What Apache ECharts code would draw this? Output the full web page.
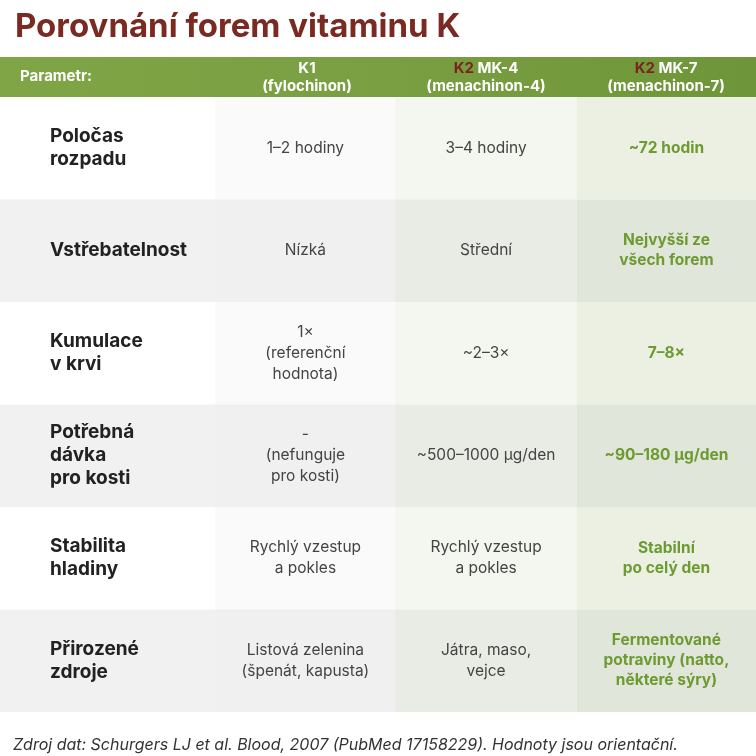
<!DOCTYPE html>
<html><head><meta charset="utf-8">
<script src="https://cdn.jsdelivr.net/npm/echarts@6/dist/echarts.min.js"></script>
<style>html,body{margin:0;padding:0;background:#fff}#c{width:756px;height:756px}</style>
</head><body><div id="c"></div>
<script>
const columns = ['Parametr', 'K1', 'MK-4', 'MK-7'];
const parameters = ['Poločas\nrozpadu', 'Vstřebatelnost', 'Kumulace\nv krvi', 'Potřebná\ndávka\npro kosti', 'Stabilita\nhladiny', 'Přirozené\nzdroje'];
const k1Values = ['1–2 hodiny', 'Nízká', '1×\n(referenční\nhodnota)', '-\n(nefunguje\npro kosti)', 'Rychlý vzestup\na pokles', 'Listová zelenina\n(špenát, kapusta)'];
const mk4Values = ['3–4 hodiny', 'Střední', '~2–3×', '~500–1000 µg/den', 'Rychlý vzestup\na pokles', 'Játra, maso,\nvejce'];
const mk7Values = ['~72 hodin', 'Nejvyšší ze\nvšech forem', '7–8×', '~90–180 µg/den', 'Stabilní\npo celý den', 'Fermentované\npotraviny (natto,\nněkteré sýry)'];

const F = 'Inter, "Open Sans", sans-serif';
const COL_EDGES = [0, 0.285, 0.523, 0.763, 1]; // layout fractions of the table width
const cols = [parameters, k1Values, mk4Values, mk7Values];
const data = [];
parameters.forEach((p, r) => { for (let c = 0; c < 4; c++) data.push([c, r, cols[c][r]]); });

const bg = [['#ffffff', '#f1f1f1'], ['#fafafa', '#f0f0f0'], ['#f4f7ef', '#e9ece4'], ['#ebf0e3', '#e1e6da']];

const chart = echarts.init(document.getElementById('c'));
chart.setOption({
  animation: false,
  grid: { left: 0, right: 0, top: 97, bottom: 44 },
  xAxis: { type: 'category', data: columns, show: false },
  yAxis: { type: 'category', data: parameters, inverse: true, show: false },
  title: [
    { text: 'Porovnání forem vitaminu K', left: 10, top: 6, textStyle: { fontFamily: F, fontSize: 33, fontWeight: 'bold', color: '#7b2a22' } },
    { text: 'Zdroj dat: Schurgers LJ et al. Blood, 2007 (PubMed 17158229). Hodnoty jsou orientační.', left: 8, top: 732, textStyle: { fontFamily: F, fontSize: 16, fontStyle: 'italic', fontWeight: 'normal', color: '#333' } }
  ],
  graphic: [
    { type: 'rect', shape: { x: 0, y: 57, width: 756, height: 40 }, style: { fill: new echarts.graphic.LinearGradient(0, 0, 1, 0, [{ offset: 0, color: '#7fa547' }, { offset: 0.5, color: '#7a9f42' }, { offset: 1, color: '#6e9539' }]) } },
    { type: 'text', left: 20, top: 69, style: { text: 'Parametr:', fill: '#fff', font: 'bold 15px ' + F } },
    { type: 'text', x: 307, y: 77, style: { text: 'K1\n(fylochinon)', fill: '#fff', font: 'bold 15px ' + F, align: 'center', verticalAlign: 'middle', lineHeight: 18 } },
    { type: 'text', x: 486, y: 77, style: { text: '{r|K2} MK-4\n(menachinon-4)', fill: '#fff', font: 'bold 15px ' + F, align: 'center', verticalAlign: 'middle', lineHeight: 18, rich: { r: { fill: '#7b2320', font: 'bold 15px ' + F } } } },
    { type: 'text', x: 666, y: 77, style: { text: '{r|K2} MK-7\n(menachinon-7)', fill: '#fff', font: 'bold 15px ' + F, align: 'center', verticalAlign: 'middle', lineHeight: 18, rich: { r: { fill: '#7b2320', font: 'bold 15px ' + F } } } }
  ],
  series: [{
    type: 'custom',
    data: data,
    renderItem: function (params, api) {
      const c = api.value(0), r = api.value(1);
      const p = api.coord([c, r]);
      const s = api.size([1, 1]);
      const cs = params.coordSys;
      const x0 = cs.x + COL_EDGES[c] * cs.width, x1 = cs.x + COL_EDGES[c + 1] * cs.width;
      const cx = (x0 + x1) / 2;
      const y0 = p[1] - s[1] / 2;
      const txt = cols[c][r];
      const children = [{ type: 'rect', shape: { x: x0, y: y0, width: x1 - x0 + 0.5, height: s[1] }, style: { fill: bg[c][r % 2] } }];
      if (c === 0) {
        children.push({ type: 'text', style: { x: 50, y: p[1], text: txt, fill: '#222', font: 'bold 19px ' + F, verticalAlign: 'middle', lineHeight: 23 } });
      } else if (c === 3) {
        children.push({ type: 'text', style: { x: cx, y: p[1], text: txt, fill: '#6d9a31', font: 'bold 15.5px ' + F, align: 'center', verticalAlign: 'middle', lineHeight: 20 } });
      } else {
        children.push({ type: 'text', style: { x: cx, y: p[1], text: txt, fill: '#444', font: '15.5px ' + F, align: 'center', verticalAlign: 'middle', lineHeight: 21 } });
      }
      return { type: 'group', children: children };
    }
  }]
});
</script></body></html>
